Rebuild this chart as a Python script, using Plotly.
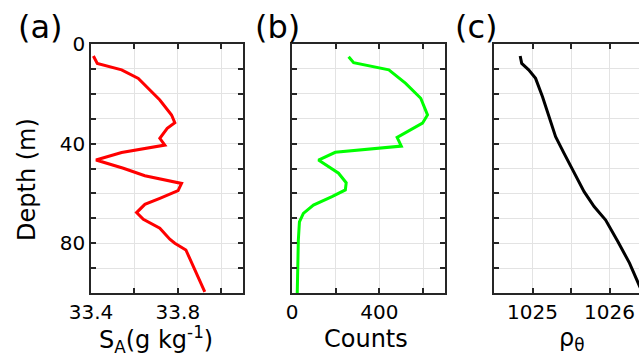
import plotly.graph_objects as go

# Panel (a): absolute salinity vs depth
sal_depth = [4.8, 7.8, 10.4, 13.8, 22.5, 28.5, 31.6, 33.9, 37.9, 40.6, 43.6, 46.6, 49.9, 52.9,
             56.0, 58.9, 62.0, 64.4, 67.7, 70.4, 74.0, 78.4, 80.0, 82.7, 99.5]
sal_vals = [33.411, 33.429, 33.541, 33.618, 33.717, 33.771, 33.786, 33.751, 33.717, 33.740,
            33.541, 33.423, 33.549, 33.648, 33.817, 33.801, 33.717, 33.648, 33.610, 33.641,
            33.717, 33.763, 33.786, 33.837, 33.924]

# Panel (b): counts vs depth
cnt_depth = [5.1, 7.5, 10.4, 15.8, 21.8, 28.5, 31.8, 37.5, 41.0, 43.5, 46.6, 51.9, 55.7, 58.6,
             61.3, 64.7, 68.0, 71.4, 78.7, 100.0]
cnt_vals = [259, 282, 443, 520, 589, 620, 597, 481, 500, 198, 121, 213, 248, 244,
            183, 98, 52, 34, 29, 24]

# Panel (c): potential density vs depth
rho_depth = [4.8, 7.8, 10.4, 13.8, 21.2, 29.2, 37.2, 43.9, 51.9, 59.3, 65.3, 70.7, 79.4, 88.0, 97.2, 100.0]
rho_vals = [1024.84, 1024.86, 1024.95, 1025.04, 1025.13, 1025.21, 1025.30, 1025.41, 1025.54,
            1025.67, 1025.80, 1025.95, 1026.11, 1026.26, 1026.39, 1026.43]

depth_ticks = [0, 10, 20, 30, 40, 50, 60, 70, 80, 90, 100]
depth_text = ["0", "", "", "", "40", "", "", "", "80", "", ""]
sal_ticks = [33.4, 33.6, 33.8, 34.0]
sal_text = ["33.4", "", "33.8", ""]
cnt_ticks = [0, 200, 400, 600]
cnt_text = ["0", "", "400", ""]
rho_ticks = [1025, 1025.5, 1026]
rho_text = ["1025", "", "1026"]

W, H = 639, 358
FONT = "DejaVu Sans"
AX = "#262626"
GRID = "#e3e3e3"
TICK_SIZE = 20
TITLE_SIZE = 24
PANEL_SIZE = 32

fig = go.Figure()
fig.add_trace(go.Scatter(x=sal_vals, y=sal_depth, mode="lines",
                         line=dict(color="#ff0000", width=3), xaxis="x", yaxis="y"))
fig.add_trace(go.Scatter(x=cnt_vals, y=cnt_depth, mode="lines",
                         line=dict(color="#00ff00", width=3), xaxis="x2", yaxis="y2"))
fig.add_trace(go.Scatter(x=rho_vals, y=rho_depth, mode="lines",
                         line=dict(color="#000000", width=3), xaxis="x3", yaxis="y3"))

def px(a, b):
    return [a / W, b / W]

ydom = [(H - 293) / H, (H - 44) / H]

common_x = dict(showgrid=True, gridcolor=GRID, gridwidth=1, showline=True, linecolor=AX,
                linewidth=1.5, ticks="inside", ticklen=5, tickcolor=AX, tickwidth=1.5,
                tickmode="array", zeroline=False, automargin=False,
                tickfont=dict(family=FONT, size=TICK_SIZE, color="#000"))
common_y = dict(showgrid=True, gridcolor=GRID, gridwidth=1, showline=True, linecolor=AX,
                linewidth=1.5, ticks="inside", ticklen=5, tickcolor=AX, tickwidth=1.5,
                tickmode="array", tickvals=depth_ticks, zeroline=False, automargin=False,
                range=[100, 0], tickfont=dict(family=FONT, size=TICK_SIZE, color="#000"))

layout = dict(
    width=W, height=H, margin=dict(l=0, r=0, t=0, b=0, autoexpand=False),
    paper_bgcolor="white", plot_bgcolor="white", showlegend=False,
    xaxis=dict(common_x, domain=px(91, 243), range=[33.4, 34.1], tickvals=sal_ticks,
               ticktext=sal_text, anchor="y", mirror="ticks"),
    yaxis=dict(common_y, domain=ydom, ticktext=depth_text, anchor="x", mirror="ticks"),
    xaxis2=dict(common_x, domain=px(292, 445), range=[0, 700], tickvals=cnt_ticks,
                ticktext=cnt_text, anchor="y2", mirror="ticks"),
    yaxis2=dict(common_y, domain=ydom, showticklabels=False, anchor="x2", mirror="ticks"),
    xaxis3=dict(common_x, domain=px(494, 639), range=[1024.5, 1024.5 + 145 / 77],
                tickvals=rho_ticks, ticktext=rho_text, anchor="y3", mirror="ticks"),
    yaxis3=dict(common_y, domain=ydom, showticklabels=False, anchor="x3", mirror=False),
)
fig.update_layout(**layout)

ann = []
def add_text(x, y, text, size, **kw):
    ann.append(dict(x=x / W, y=1 - y / H, xref="paper", yref="paper", text=text,
                    showarrow=False, font=dict(family=FONT, size=size, color="#000"),
                    xanchor="center", yanchor="middle", **kw))

add_text(40, 27, "(a)", PANEL_SIZE)
add_text(277, 27, "(b)", PANEL_SIZE)
add_text(476, 27, "(c)", PANEL_SIZE)
add_text(156, 339, "S<sub>A</sub>(g kg<sup>-1</sup>)", TITLE_SIZE)
add_text(366, 339, "Counts", TITLE_SIZE)
add_text(572, 339, "ρ<sub>θ</sub>", TITLE_SIZE)
add_text(27, 180, "Depth (m)", TITLE_SIZE, textangle=-90)
fig.update_layout(annotations=ann)

fig.write_html("out.html")
